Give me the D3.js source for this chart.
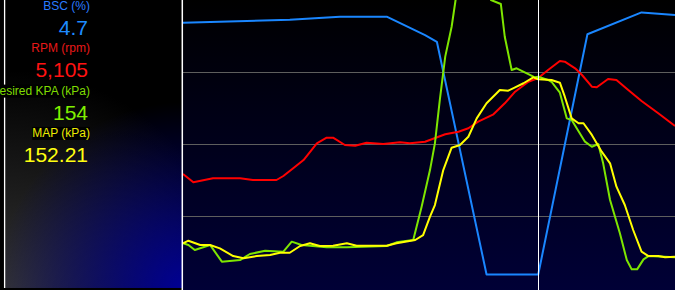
<!DOCTYPE html>
<html>
<head>
<meta charset="utf-8">
<script src="https://cdn.jsdelivr.net/npm/d3@7"></script>
<style>
  body { margin: 0; background: #000; overflow: hidden; }
  text { font-family: "Liberation Sans", Arial, sans-serif; }
</style>
</head>
<body>
<div id="chart"></div>
<script>
// time axis runs 0..100 (percent of the logged window), cursor at 72.2
var cursorT = 72.2;

// BSC (%) samples [t, value]
var bscData = [
    [0, 92.1], [21.7, 93.1], [31.9, 94.2], [41.4, 94.2], [49.2, 87.8], [51.6, 85.5],
    [61.7, 4.7], [72.2, 4.7], [82.2, 88.1], [93.2, 95.7], [100, 94.8]
];

// RPM samples
var rpmData = [
    [0, 2771], [2.1, 2569], [6.1, 2666], [11.6, 2666], [14.2, 2625], [19.0, 2625],
    [20.4, 2722], [22.4, 2909], [24.5, 3111], [27.2, 3517], [29.2, 3653], [30.5, 3653],
    [32.9, 3476], [35.0, 3459], [37.3, 3532], [40.7, 3500], [44.1, 3541], [46.1, 3517],
    [49.2, 3556], [53.3, 3736], [56.0, 3799], [58.0, 3882], [60.0, 4042], [63.1, 4222],
    [65.4, 4489], [67.5, 4771], [70.2, 5014], [72.2, 5105], [74.2, 5299], [76.6, 5517],
    [77.6, 5500], [79.7, 5340], [81.1, 5177], [83.1, 4893], [84.1, 4878], [86.4, 5080],
    [88.1, 5056], [90.5, 4812], [93.2, 4545], [96.6, 4246], [100, 3938]
];

// Desired KPA (kPa) samples
var desiredKpaData = [
    [0, 32.6], [1.1, 31.4], [2.4, 27.7], [5.5, 31.4], [7.9, 19.2], [11.6, 20.4],
    [13.6, 24.8], [16.7, 27.2], [20.4, 26.5], [22.1, 33.8], [24.1, 31.4], [29.2, 29.7],
    [33.3, 29.7], [41.4, 30.6], [43.4, 33.3], [46.8, 35.0], [48.5, 59.3], [50.2, 86.0],
    [51.2, 105.5], [52.2, 137.1], [53.3, 168.7], [54.6, 190.5], [55.4, 210], [55.9, 222],
    [58.3, 228], [61.4, 220], [62.6, 210], [64.6, 207.1], [65.4, 183.2], [66.8, 159.0],
    [67.8, 160.2], [70.2, 156.0], [71.5, 153.6], [72.2, 154], [74.2, 151.7], [74.9, 150.4],
    [76.6, 142.4], [78.0, 123.7], [79.0, 122.5], [81.7, 106.7], [83.1, 103.0], [84.4, 105.0],
    [85.4, 90.9], [86.8, 64.2], [88.8, 39.9], [90.2, 20.4], [91.2, 13.6], [92.3, 13.6],
    [93.6, 20.9], [94.6, 23.3], [100, 22.4]
];

// MAP (kPa) samples
var mapData = [
    [0, 32.6], [1.1, 34.5], [3.5, 31.4], [5.5, 31.4], [7.5, 28.9], [10.2, 23.3],
    [12.3, 21.7], [15.0, 23.3], [17.7, 24.1], [19.7, 25.7], [21.7, 25.7], [23.8, 30.6],
    [25.8, 32.6], [27.8, 30.6], [30.5, 30.8], [33.3, 32.6], [35.3, 30.8], [41.4, 30.8],
    [43.4, 32.6], [47.2, 35.0], [48.8, 38.6], [50.2, 52.0], [51.2, 60.5], [52.9, 86.0],
    [54.6, 102.3], [56.3, 104.3], [58.0, 110.3], [59.7, 123.7], [61.7, 134.7], [64.4, 144.4],
    [66.1, 143.9], [67.5, 146.3], [69.2, 149.3], [71.2, 153.6], [72.2, 152.21], [74.9, 151.7],
    [76.6, 149.7], [77.6, 139.5], [79.0, 123.7], [80.4, 120.1], [81.4, 120.1], [83.1, 111.6],
    [85.1, 99.4], [86.8, 90.9], [88.1, 73.9], [89.8, 60.5], [91.5, 42.3], [93.2, 26.5],
    [94.6, 23.3], [96.6, 23.3], [98.0, 22.4], [100, 22.8]
];

// readout labels / values shown at the cursor
var seriesNames  = ['BSC (%)', 'RPM (rpm)', 'Desired KPA (kPa)', 'MAP (kPa)'];
var cursorValues = ['4.7', '5,105', '154', '152.21'];
var seriesMax    = [100, 7000, 210, 210];
var seriesData   = [bscData, rpmData, desiredKpaData, mapData];
var lineColors   = ['#1a86ff', '#ff0000', '#7ee600', '#ffff00'];
var labelColors  = ['#2a7cff', '#e81818', '#7fdc00', '#ecec00'];
var valueColors  = ['#1e8cff', '#ff1212', '#80f000', '#ffff10'];

var width = 675, height = 290;
var plotLeft = 183, plotBottom = 288;

var svg = d3.select('#chart').append('svg')
    .attr('width', width).attr('height', height);

var defs = svg.append('defs');

// left readout panel background
var grayGrad = defs.append('radialGradient').attr('id', 'panelGray')
    .attr('gradientUnits', 'userSpaceOnUse')
    .attr('cx', 6).attr('cy', 300).attr('r', 230);
grayGrad.append('stop').attr('offset', '0%').attr('stop-color', '#353535');
grayGrad.append('stop').attr('offset', '100%').attr('stop-color', '#000000');

var blueGrad = defs.append('radialGradient').attr('id', 'panelBlue')
    .attr('gradientUnits', 'userSpaceOnUse')
    .attr('cx', 185).attr('cy', 292).attr('r', 190);
blueGrad.append('stop').attr('offset', '0%').attr('stop-color', '#000096').attr('stop-opacity', 1);
blueGrad.append('stop').attr('offset', '100%').attr('stop-color', '#000096').attr('stop-opacity', 0);

var plotGrad = defs.append('linearGradient').attr('id', 'plotBg')
    .attr('x1', 0).attr('y1', 0).attr('x2', 0).attr('y2', 1);
plotGrad.append('stop').attr('offset', '0%').attr('stop-color', '#000000');
plotGrad.append('stop').attr('offset', '100%').attr('stop-color', '#000036');

defs.append('clipPath').attr('id', 'plotClip')
    .append('rect').attr('x', plotLeft).attr('y', 0)
    .attr('width', width - plotLeft).attr('height', height);

svg.append('rect').attr('x', 0).attr('y', 0).attr('width', width).attr('height', height).attr('fill', '#000');
svg.append('rect').attr('x', 5).attr('y', 0).attr('width', 177).attr('height', 288).attr('fill', 'url(#panelGray)');
svg.append('rect').attr('x', 5).attr('y', 0).attr('width', 177).attr('height', 288).attr('fill', 'url(#panelBlue)');
svg.append('line').attr('x1', 4.6).attr('x2', 4.6).attr('y1', 0).attr('y2', 288)
    .attr('stroke', '#fff').attr('stroke-width', 1.3);

// plot area
svg.append('rect').attr('x', plotLeft).attr('y', 0)
    .attr('width', width - plotLeft).attr('height', height).attr('fill', 'url(#plotBg)');

var x = d3.scaleLinear().domain([0, 100]).range([plotLeft, width]);
var gridScale = d3.scaleLinear().domain([0, 4]).range([plotBottom, 0]);

svg.append('g').selectAll('line')
    .data([1, 2, 3])
    .enter().append('line')
    .attr('x1', plotLeft).attr('x2', width)
    .attr('y1', function(d) { return Math.round(gridScale(d)) + 0.5; })
    .attr('y2', function(d) { return Math.round(gridScale(d)) + 0.5; })
    .attr('stroke', '#5e5e5e').attr('stroke-width', 1);

var traces = svg.append('g').attr('clip-path', 'url(#plotClip)');
seriesData.forEach(function(data, i) {
    var y = d3.scaleLinear().domain([0, seriesMax[i]]).range([plotBottom, 0]);
    var line = d3.line()
        .x(function(d) { return x(d[0]); })
        .y(function(d) { return y(d[1]); });
    traces.append('path')
        .datum(data)
        .attr('fill', 'none')
        .attr('stroke', lineColors[i])
        .attr('stroke-width', 2)
        .attr('stroke-linejoin', 'round')
        .attr('d', line);
});

// plot left border and cursor
svg.append('line').attr('x1', 182.3).attr('x2', 182.3).attr('y1', 0).attr('y2', height)
    .attr('stroke', '#fff').attr('stroke-width', 1.5);
svg.append('line').attr('x1', Math.round(x(cursorT)) + 0.5).attr('x2', Math.round(x(cursorT)) + 0.5)
    .attr('y1', 0).attr('y2', height)
    .attr('stroke', '#fff').attr('stroke-width', 1);

// readout text (long label runs off the left edge, as in the original)
var readout = svg.append('g');
var rowStep = 42.3;
seriesNames.forEach(function(name, i) {
    var label = readout.append('text')
        .attr('x', 90).attr('y', 10 + i * rowStep)
        .attr('text-anchor', 'end')
        .style('font-size', '12px')
        .attr('fill', labelColors[i])
        .text(name);
    var bb = label.node().getBBox();
    readout.insert('rect', function() { return label.node(); })
        .attr('x', bb.x).attr('y', bb.y + 1).attr('width', bb.width).attr('height', bb.height - 1)
        .attr('fill', '#000');
    readout.append('text')
        .attr('x', 88).attr('y', 35 + i * rowStep)
        .attr('text-anchor', 'end')
        .style('font-size', '21px')
        .attr('fill', valueColors[i])
        .text(cursorValues[i]);
});
</script>
</body>
</html>
